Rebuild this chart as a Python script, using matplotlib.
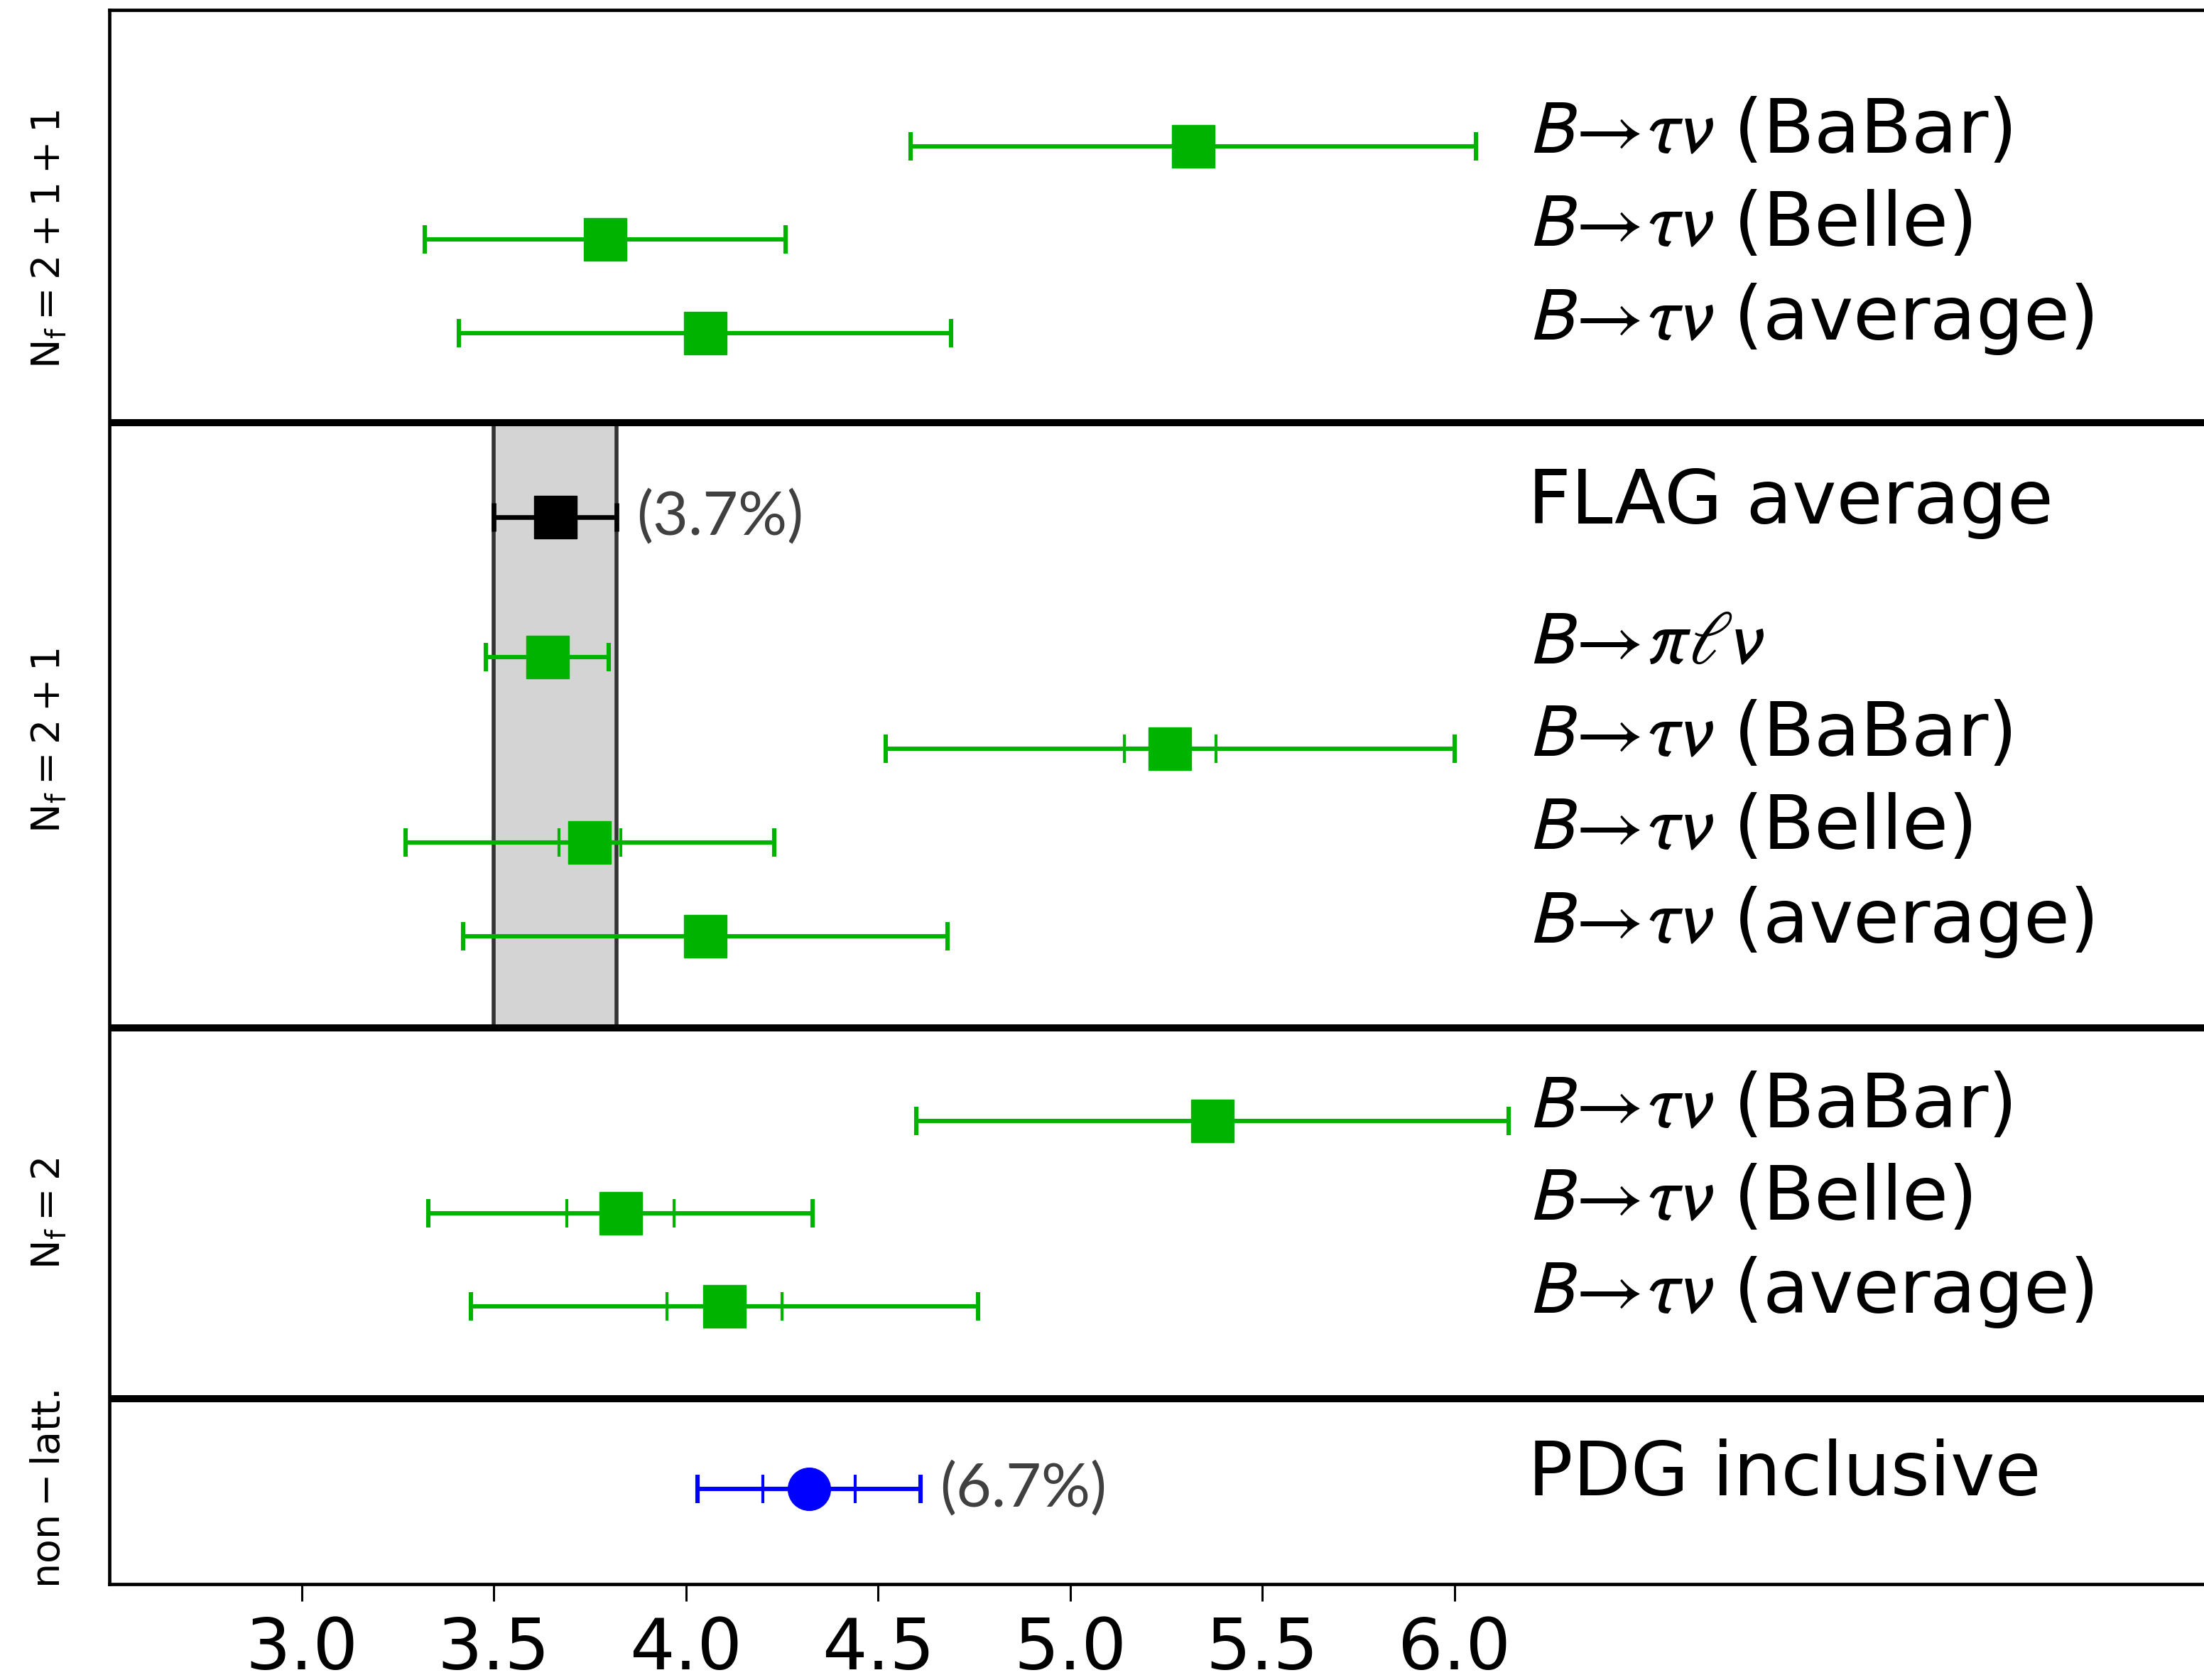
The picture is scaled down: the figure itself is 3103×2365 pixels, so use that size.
import matplotlib
matplotlib.use("Agg")
import matplotlib.pyplot as plt
from matplotlib.transforms import blended_transform_factory

plt.rcParams["mathtext.fontset"] = "stixsans"

# ---------------- data ----------------
panel_names = [r"$\mathrm{N_f=2+1+1}$", r"$\mathrm{N_f=2+1}$", r"$\mathrm{N_f=2}$", r"$\mathrm{non-latt.}$"]

row_labels = [
    r"$B\!\rightarrow\!\tau\nu$ (BaBar)", r"$B\!\rightarrow\!\tau\nu$ (Belle)", r"$B\!\rightarrow\!\tau\nu$ (average)",
    "FLAG average",
    r"$B\!\rightarrow\!\pi\ell\nu$", r"$B\!\rightarrow\!\tau\nu$ (BaBar)", r"$B\!\rightarrow\!\tau\nu$ (Belle)",
    r"$B\!\rightarrow\!\tau\nu$ (average)",
    r"$B\!\rightarrow\!\tau\nu$ (BaBar)", r"$B\!\rightarrow\!\tau\nu$ (Belle)", r"$B\!\rightarrow\!\tau\nu$ (average)",
    "PDG inclusive",
]
row_panel = [0, 0, 0, 1, 1, 1, 1, 1, 2, 2, 2, 3]
row_kind = ["lat", "lat", "lat", "flag", "lat", "lat", "lat", "lat", "lat", "lat", "lat", "pheno"]
row_values = [5.32, 3.79, 4.05, 3.66, 3.64, 5.26, 3.75, 4.05, 5.37, 3.83, 4.10, 4.32]
row_err_total = [0.735, 0.47, 0.64, 0.16, 0.16, 0.74, 0.48, 0.63, 0.77, 0.50, 0.66, 0.29]
row_err_inner = [None, None, None, None, None, 0.12, 0.08, None, None, 0.14, 0.15, 0.12]

flag_value = 3.66
flag_err = 0.16
pct_labels = {3: "(3.7%)", 11: "(6.7%)"}

xtick_values = [3.0, 3.5, 4.0, 4.5, 5.0, 5.5, 6.0]
xtick_labels = ["3.0", "3.5", "4.0", "4.5", "5.0", "5.5", "6.0"]

# ---------------- layout ----------------
row_pos = [1.46, 2.46, 3.47, 5.44, 6.94, 7.93, 8.93, 9.94, 11.92, 12.91, 13.91, 15.87]
separators = [4.43, 10.92, 14.90]
y_bottom = 16.89
x_limits = (2.5, 7.95)
label_x = 6.19

GREEN = "#00b300"
BLUE = "#0000ff"
BLACK = "#000000"

fig = plt.figure(figsize=(31.03, 23.65), dpi=100)
ax = fig.add_axes([154 / 3103, 1 - 2230 / 2365, 1 - 154 / 3103, (2230 - 14) / 2365])

ax.set_xlim(*x_limits)
ax.set_ylim(y_bottom, 0)

# FLAG band in the Nf=2+1 panel
ax.fill_betweenx([separators[0], separators[1]], flag_value - flag_err, flag_value + flag_err,
                 color="#d4d4d4", zorder=1, linewidth=0)
for xv in (flag_value - flag_err, flag_value + flag_err):
    ax.plot([xv, xv], [separators[0], separators[1]], color="#333333", lw=4.0, zorder=2)

for i, (v, et, ei, y, kind) in enumerate(zip(row_values, row_err_total, row_err_inner, row_pos, row_kind)):
    if kind == "lat":
        color, marker, ms = GREEN, "s", 43
    elif kind == "flag":
        color, marker, ms = BLACK, "s", 43
    else:
        color, marker, ms = BLUE, "o", 43
    lw = 4.8 if kind == "flag" else 4.4
    ax.errorbar([v], [y], xerr=[et], fmt="none", ecolor=color, elinewidth=lw,
                capsize=14.5, capthick=lw, zorder=3)
    if ei is not None:
        ax.errorbar([v], [y], xerr=[ei], fmt="none", ecolor=color, elinewidth=lw,
                    capsize=14.5, capthick=3.0, zorder=3)
    ax.plot([v], [y], marker=marker, ms=ms, color=color, mec=color, linestyle="none", zorder=4)
    if i in pct_labels:
        ax.annotate(pct_labels[i], xy=(v + et, y), xytext=(20, 0), textcoords="offset points",
                    va="center", ha="left", fontsize=62, color="#404040", family="Lato", zorder=5)
    ax.text(label_x, y + 0.07, row_labels[i], fontsize=76, va="baseline", ha="left", zorder=5)

for s in separators:
    ax.axhline(s, color="black", lw=7.2, zorder=6)

# panel names on the left
trans = blended_transform_factory(fig.transFigure, ax.transData)
for p, name in enumerate(panel_names):
    ys = [row_pos[k] for k in range(len(row_pos)) if row_panel[k] == p]
    ax.text(69 / 3103, sum(ys) / len(ys), name, transform=trans, rotation=90,
            fontsize=40, va="center", ha="center", math_fontfamily="dejavusans")

ax.set_xticks(xtick_values)
ax.set_xticklabels(xtick_labels)
ax.set_yticks([])
ax.tick_params(axis="x", direction="out", length=17, width=2.2, pad=15, labelsize=72)
for side in ("left", "top", "bottom"):
    ax.spines[side].set_linewidth(3.4)
ax.spines["right"].set_visible(False)

fig.savefig("out.png", dpi=100)
